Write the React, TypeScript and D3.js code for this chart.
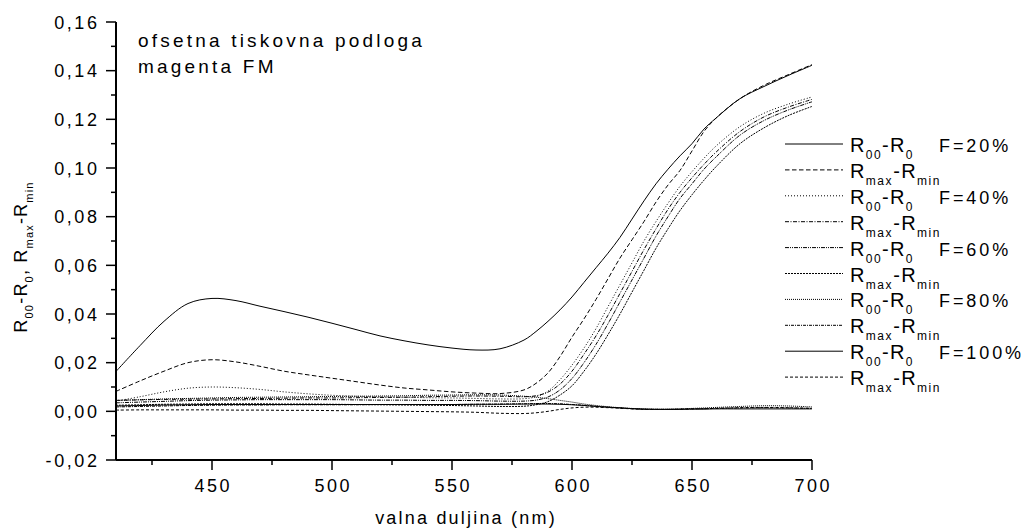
import React from "react";
import * as d3 from "d3";

const wavelengths = [410,420,430,440,450,460,470,480,490,500,510,520,530,540,550,560,570,580,585,590,595,600,605,610,615,620,625,630,635,640,645,650,655,660,670,680,690,700];

const f20R00 = [0.0164,0.027,0.037,0.0443,0.0464,0.0455,0.0432,0.041,0.0387,0.0362,0.0336,0.031,0.029,0.0273,0.026,0.0252,0.0257,0.0293,0.0328,0.037,0.0417,0.047,0.053,0.059,0.065,0.0715,0.079,0.0865,0.0935,0.0995,0.105,0.11,0.116,0.1205,0.1285,0.1335,0.138,0.1422];
const f20Rmax = [0.0082,0.0125,0.0165,0.02,0.0212,0.0203,0.0185,0.0165,0.015,0.0136,0.0122,0.0108,0.0096,0.0088,0.008,0.0075,0.0073,0.0088,0.0115,0.0158,0.0225,0.0305,0.038,0.046,0.0545,0.063,0.0705,0.078,0.086,0.093,0.099,0.107,0.115,0.1205,0.1285,0.134,0.1383,0.1425];
const f40R00 = [0.0042,0.006,0.008,0.0095,0.01,0.0097,0.009,0.008,0.0072,0.0066,0.0062,0.006,0.0058,0.0056,0.0055,0.0053,0.0051,0.0052,0.006,0.0083,0.013,0.019,0.026,0.034,0.043,0.052,0.061,0.07,0.078,0.0855,0.0925,0.0985,0.104,0.109,0.117,0.1225,0.1262,0.1292];
const f40Rmax = [0.0045,0.0047,0.0049,0.005,0.0051,0.0052,0.0053,0.0054,0.0055,0.0055,0.0056,0.0057,0.0058,0.006,0.0062,0.0063,0.0062,0.006,0.0064,0.0079,0.0112,0.0165,0.0235,0.031,0.0395,0.0485,0.0575,0.0665,0.075,0.083,0.09,0.096,0.1015,0.1065,0.115,0.121,0.125,0.1282];
const f60R00 = [0.0035,0.0038,0.0041,0.0044,0.0046,0.0047,0.0048,0.0048,0.0048,0.0048,0.0047,0.0046,0.0046,0.0045,0.0045,0.0044,0.0042,0.0042,0.0046,0.0059,0.0088,0.0135,0.02,0.0275,0.036,0.045,0.054,0.063,0.072,0.08,0.0875,0.0935,0.0995,0.1045,0.1135,0.1195,0.1238,0.1272];
const f60Rmax = [0.0025,0.0027,0.0029,0.003,0.0031,0.0031,0.0031,0.003,0.003,0.0029,0.0028,0.0027,0.0026,0.0025,0.0024,0.0022,0.002,0.0021,0.0027,0.004,0.0067,0.0105,0.0165,0.0235,0.0315,0.04,0.049,0.058,0.067,0.075,0.0825,0.089,0.095,0.1005,0.11,0.1165,0.1215,0.1253];
const f80R00 = [0.0045,0.0048,0.0051,0.0053,0.0055,0.0057,0.0058,0.0059,0.006,0.0061,0.0062,0.0063,0.0064,0.0066,0.0067,0.0068,0.0067,0.0062,0.0058,0.0052,0.0045,0.0038,0.003,0.0024,0.0019,0.0015,0.0012,0.001,0.0009,0.0009,0.001,0.0012,0.0014,0.0016,0.002,0.0023,0.0022,0.0018];
const f80Rmax = [0.0018,0.002,0.0022,0.0024,0.0025,0.0026,0.0026,0.0027,0.0027,0.0027,0.0027,0.0028,0.0028,0.0028,0.0028,0.0029,0.003,0.0031,0.0032,0.0032,0.0031,0.0028,0.0025,0.0021,0.0017,0.0014,0.0011,0.0009,0.0008,0.0008,0.0009,0.001,0.0011,0.0012,0.0014,0.0015,0.0014,0.0012];
const f100R00 = [0.0022,0.0024,0.0026,0.0027,0.0028,0.0028,0.0028,0.0028,0.0028,0.0028,0.0028,0.0028,0.0028,0.0028,0.0028,0.0029,0.0029,0.003,0.003,0.003,0.0029,0.0027,0.0024,0.002,0.0017,0.0014,0.0011,0.0009,0.0008,0.0008,0.0008,0.0009,0.0009,0.001,0.001,0.001,0.001,0.001];
const f100Rmax = [0.0005,0.0006,0.0006,0.0006,0.0006,0.0005,0.0005,0.0004,0.0004,0.0003,0.0002,0.0001,0,-0.0001,-0.0002,-0.0004,-0.0008,-0.0009,-0.0006,0,0.0008,0.0014,0.0017,0.0017,0.0015,0.0013,0.001,0.0008,0.0008,0.0008,0.0009,0.001,0.0011,0.0012,0.0015,0.0016,0.0015,0.0012];

const seriesValues = [f20R00, f20Rmax, f40R00, f40Rmax, f60R00, f60Rmax, f80R00, f80Rmax, f100R00, f100Rmax];
const seriesKinds = ["R00", "Rmax", "R00", "Rmax", "R00", "Rmax", "R00", "Rmax", "R00", "Rmax"];
const fillLabels = ["F=20%", "", "F=40%", "", "F=60%", "", "F=80%", "", "F=100%", ""];
const dashes = ["none", "4.5,2.5", "1,2", "4,1.5,1,1.5", "4,1,1,1,1,1", "2,1", "1,1", "3,1,1,1", "none", "3,2"];

const xTicks = [450, 500, 550, 600, 650, 700];
const xMinorTicks = [425, 475, 525, 575, 625, 675];
const yTicks = [-0.02, 0, 0.02, 0.04, 0.06, 0.08, 0.1, 0.12, 0.14, 0.16];
const yMinorTicks = [-0.01, 0.01, 0.03, 0.05, 0.07, 0.09, 0.11, 0.13, 0.15];
const titleLines = ["ofsetna tiskovna podloga", "magenta FM"];
const xTitle = "valna duljina (nm)";

const FONT = "'Liberation Sans', Arial, sans-serif";

export default function App() {
  const x = d3.scaleLinear().domain([410, 700]).range([116, 812]);
  const y = d3.scaleLinear().domain([-0.02, 0.16]).range([460, 22]);
  const line = d3
    .line<number>()
    .x((_, i) => x(wavelengths[i]))
    .y((d) => y(d))
    .curve(d3.curveCatmullRom.alpha(0.5));
  const fmt = (v: number) => d3.format(".2f")(v).replace(".", ",").replace("−", "-");

  const legendX0 = 785;
  const legendX1 = 843;
  const rowY = (i: number) => 152 + i * 25.9;

  return (
    <svg
      width={1031}
      height={529}
      style={{ position: "absolute", left: 0, top: 0, background: "#fff" }}
      fontFamily={FONT}
    >
      <rect x={0} y={0} width={1031} height={529} fill="#fff" />
      <g fill="none" stroke="#000" strokeWidth={1}>
        {seriesValues.map((vals, i) => (
          <path key={i} d={line(vals) || ""} strokeDasharray={dashes[i] === "none" ? undefined : dashes[i]} />
        ))}
      </g>
      <g stroke="#000" strokeWidth={2}>
        <line x1={x(410)} x2={x(410)} y1={y(0.16)} y2={y(-0.02)} />
        <line x1={x(410)} x2={x(700)} y1={y(-0.02)} y2={y(-0.02)} />
      </g>
      <g stroke="#000" strokeWidth={1.5}>
        {yTicks.map((t) => (
          <line key={"yt" + t} x1={x(410) - 10} x2={x(410)} y1={y(t)} y2={y(t)} />
        ))}
        {yMinorTicks.map((t) => (
          <line key={"ym" + t} x1={x(410) - 5} x2={x(410)} y1={y(t)} y2={y(t)} />
        ))}
        {xTicks.map((t) => (
          <line key={"xt" + t} x1={x(t)} x2={x(t)} y1={y(-0.02)} y2={y(-0.02) + 10} />
        ))}
        {xMinorTicks.map((t) => (
          <line key={"xm" + t} x1={x(t)} x2={x(t)} y1={y(-0.02)} y2={y(-0.02) + 5} />
        ))}
      </g>
      <g fontSize={18} letterSpacing={2.6} fill="#000">
        {yTicks.map((t) => (
          <text key={"yl" + t} x={x(410) - 16.4} y={y(t) + 6.5} textAnchor="end">
            {fmt(t)}
          </text>
        ))}
        {xTicks.map((t) => (
          <text key={"xl" + t} x={x(t) + 1.3} y={y(-0.02) + 31.5} textAnchor="middle">
            {String(t)}
          </text>
        ))}
      </g>
      <text x={466} y={524} fontSize={18} letterSpacing={2.2} textAnchor="middle">
        {xTitle}
      </text>
      <text transform="translate(27,257) rotate(-90)" fontSize={18} letterSpacing={1.2} textAnchor="middle">
        R<tspan fontSize={11} dy={6}>00</tspan>
        <tspan dy={-6}>-R</tspan>
        <tspan fontSize={11} dy={6}>0</tspan>
        <tspan dy={-6}>, R</tspan>
        <tspan fontSize={11} dy={6}>max</tspan>
        <tspan dy={-6}>-R</tspan>
        <tspan fontSize={11} dy={6}>min</tspan>
      </text>
      <g fontSize={19} letterSpacing={3.2}>
        {titleLines.map((t, i) => (
          <text key={t} x={138} y={47 + i * 26}>
            {t}
          </text>
        ))}
      </g>
      <g>
        {seriesKinds.map((k, i) => (
          <g key={"lg" + i}>
            <line
              x1={legendX0}
              x2={legendX1}
              y1={rowY(i) - 8}
              y2={rowY(i) - 8}
              stroke="#000"
              strokeWidth={1}
              strokeDasharray={dashes[i] === "none" ? undefined : dashes[i]}
            />
            {k === "R00" ? (
              <text x={850} y={rowY(i)} fontSize={20} letterSpacing={1.3}>
                R<tspan fontSize={12} dy={7} letterSpacing={1.5}>00</tspan>
                <tspan dy={-7}>-R</tspan>
                <tspan fontSize={12} dy={7}>0</tspan>
              </text>
            ) : (
              <text x={850} y={rowY(i)} fontSize={20} letterSpacing={1.3}>
                R<tspan fontSize={12} dy={7} letterSpacing={1.6}>max</tspan>
                <tspan dy={-7}>-R</tspan>
                <tspan fontSize={12} dy={7} letterSpacing={1.6}>min</tspan>
              </text>
            )}
            {fillLabels[i] && (
              <text x={939} y={rowY(i)} fontSize={18} letterSpacing={2.9}>
                {fillLabels[i]}
              </text>
            )}
          </g>
        ))}
      </g>
    </svg>
  );
}
